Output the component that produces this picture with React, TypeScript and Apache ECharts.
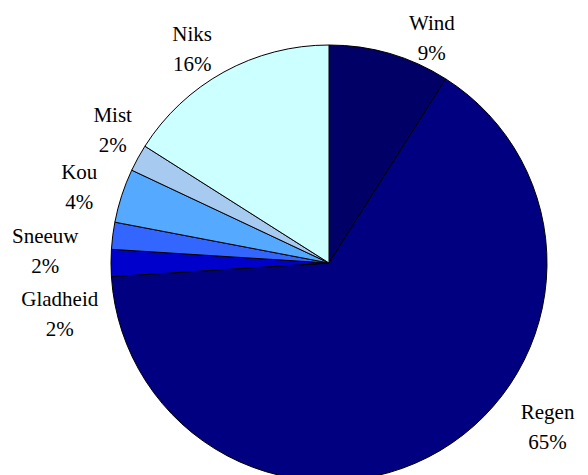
import React, { useEffect, useRef } from "react";
import * as echarts from "echarts";

const categories = ["Wind", "Regen", "Gladheid", "Sneeuw", "Kou", "Mist", "Niks"];
const values = [9, 65, 2, 2, 4, 2, 16];
const colors = ["#000066", "#000080", "#0000CC", "#3366FF", "#55AAFF", "#A6CAF0", "#CCFFFF"];

// label placement tweaks: [angle offset in degrees from slice middle, distance from centre in px]
const labelTweak: [number, number][] = [
  [8.4, 247],
  [-22.6, 273],
  [-10.7, 274],
  [-4.8, 284],
  [-1.1, 261],
  [2.8, 254],
  [-3.8, 254],
];

const CX = 329;
const CY = 263;
const R = 218;
const FONT = "Liberation Serif";
const LINE_GAP = 15;

export default function App() {
  const ref = useRef<HTMLDivElement>(null);
  useEffect(() => {
    document.body.style.margin = "0";
    const chart = echarts.init(ref.current!, undefined, { renderer: "svg" });
    const total = values.reduce((a, b) => a + b, 0);
    const mids: number[] = [];
    let acc = 0;
    values.forEach((v) => {
      mids.push(((acc + v / 2) / total) * 360);
      acc += v;
    });
    const texts: any[] = [];
    categories.forEach((c, i) => {
      const ang = ((mids[i] + labelTweak[i][0]) * Math.PI) / 180;
      const d = labelTweak[i][1];
      const x = CX + d * Math.sin(ang);
      const y = CY - d * Math.cos(ang);
      [c, `${values[i]}%`].forEach((line, k) => {
        texts.push({
          type: "text",
          x,
          y: y + (k === 0 ? -LINE_GAP : LINE_GAP),
          silent: true,
          style: {
            text: line,
            fontFamily: FONT,
            fontSize: 21,
            fill: "#000000",
            align: "center",
            verticalAlign: "middle",
          },
        });
      });
    });
    chart.setOption({
      animation: false,
      backgroundColor: "#ffffff",
      series: [
        {
          type: "pie",
          center: [CX, CY],
          radius: [0, R],
          startAngle: 90,
          clockwise: true,
          avoidLabelOverlap: false,
          data: categories.map((c, i) => ({
            name: c,
            value: values[i],
            itemStyle: { color: colors[i] },
          })),
          itemStyle: { borderColor: "#000000", borderWidth: 1 },
          label: { show: false },
          labelLine: { show: false },
          emphasis: { disabled: true },
        },
      ],
      graphic: texts,
    });
    return () => chart.dispose();
  }, []);
  return <div ref={ref} style={{ width: 588, height: 475 }} />;
}
